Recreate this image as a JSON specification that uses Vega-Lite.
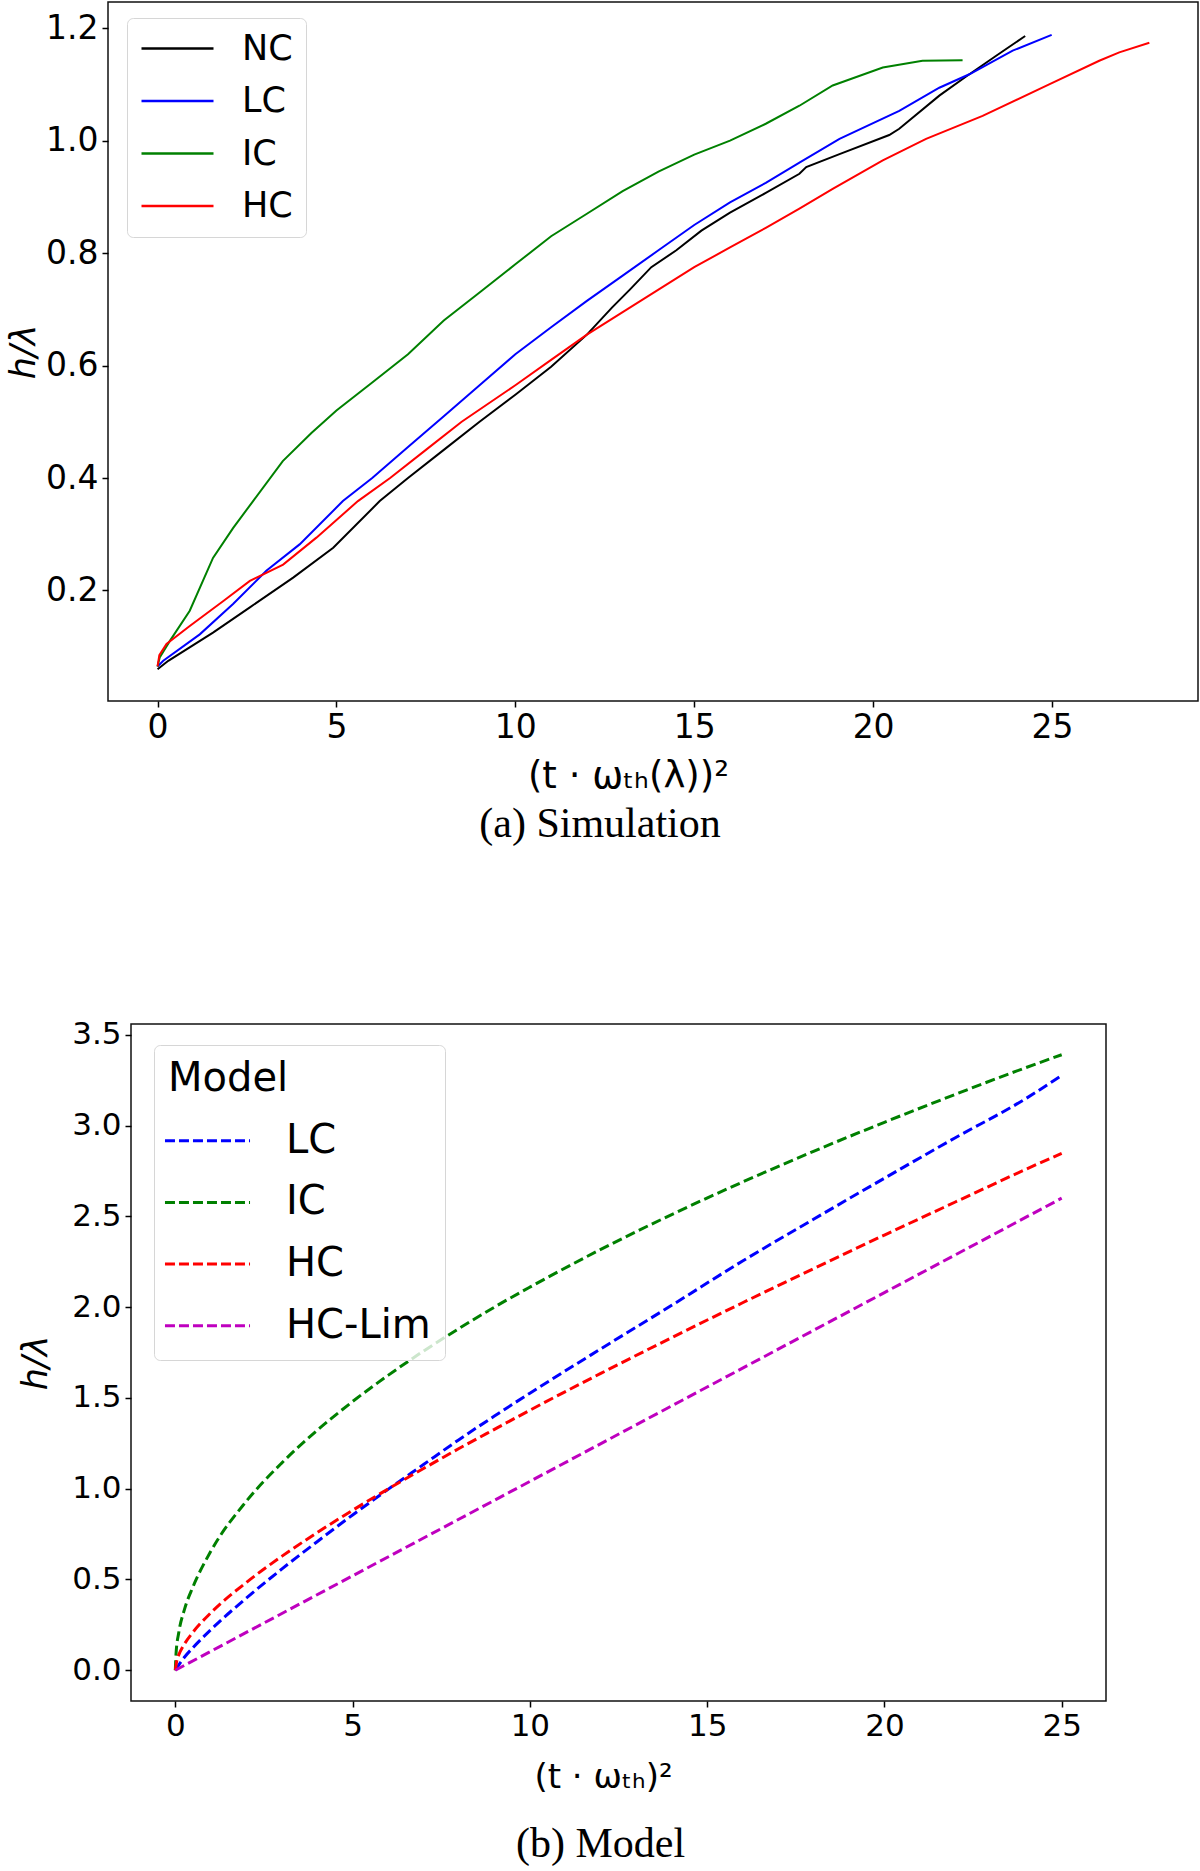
{
  "$schema": "https://vega.github.io/schema/vega-lite/v6.json",
  "padding": {"left": 5, "top": 1, "right": 0, "bottom": 0},
  "background": "white",
  "config": {
    "view": {"stroke": "#111", "strokeWidth": 1.5},
    "font": "DejaVu Sans",
    "axis": {"labelFont": "DejaVu Sans", "labelColor": "#000", "titleFont": "DejaVu Sans", "titleColor": "#000", "titleFontWeight": "normal", "tickColor": "#000", "tickSize": 6, "tickWidth": 1.5, "domain": false, "grid": false, "labelPadding": 4},
    "legend": {"labelLimit": 0, "labelFont": "DejaVu Sans", "labelColor": "#000", "titleFont": "DejaVu Sans", "titleColor": "#000", "titleFontWeight": "normal"}
  },
  "resolve": {"scale": {"color": "independent"}, "legend": {"color": "independent"}},
  "spacing": 172,
  "vconcat": [
    {
      "width": 1090,
      "height": 699,
      "title": {"text": "(a) Simulation", "orient": "bottom", "frame": "group", "anchor": "middle", "dx": -53, "offset": 10, "font": "Liberation Serif", "fontSize": 42, "fontWeight": "normal", "color": "#000"},
      "data": {"values": [
        {"series":"NC","x":0,"y":0.06},{"series":"NC","x":0.3,"y":0.075},{"series":"NC","x":1.55,"y":0.125},{"series":"NC","x":2.58,"y":0.17},{"series":"NC","x":3.79,"y":0.223},{"series":"NC","x":4.91,"y":0.276},{"series":"NC","x":6.21,"y":0.359},{"series":"NC","x":7,"y":0.4},{"series":"NC","x":8,"y":0.45},{"series":"NC","x":9,"y":0.5},{"series":"NC","x":10,"y":0.548},{"series":"NC","x":11,"y":0.598},{"series":"NC","x":12,"y":0.655},{"series":"NC","x":12.7,"y":0.703},{"series":"NC","x":13.2,"y":0.735},{"series":"NC","x":13.8,"y":0.775},{"series":"NC","x":14.5,"y":0.805},{"series":"NC","x":15.2,"y":0.84},{"series":"NC","x":16,"y":0.872},{"series":"NC","x":17,"y":0.907},{"series":"NC","x":17.94,"y":0.941},{"series":"NC","x":18.13,"y":0.953},{"series":"NC","x":19.06,"y":0.976},{"series":"NC","x":20.45,"y":1.01},{"series":"NC","x":20.73,"y":1.021},{"series":"NC","x":21.85,"y":1.08},{"series":"NC","x":22.6,"y":1.114},{"series":"NC","x":23.44,"y":1.151},{"series":"NC","x":24.25,"y":1.186},
        {"series":"LC","x":0,"y":0.065},{"series":"LC","x":0.16,"y":0.075},{"series":"LC","x":1.18,"y":0.122},{"series":"LC","x":2.11,"y":0.176},{"series":"LC","x":3.04,"y":0.235},{"series":"LC","x":3.97,"y":0.282},{"series":"LC","x":5.18,"y":0.359},{"series":"LC","x":6,"y":0.4},{"series":"LC","x":7,"y":0.455},{"series":"LC","x":8,"y":0.51},{"series":"LC","x":9,"y":0.565},{"series":"LC","x":10,"y":0.62},{"series":"LC","x":11,"y":0.668},{"series":"LC","x":12,"y":0.715},{"series":"LC","x":13,"y":0.76},{"series":"LC","x":14,"y":0.805},{"series":"LC","x":15,"y":0.85},{"series":"LC","x":16,"y":0.89},{"series":"LC","x":17,"y":0.925},{"series":"LC","x":17.94,"y":0.961},{"series":"LC","x":19.06,"y":1.003},{"series":"LC","x":20.73,"y":1.053},{"series":"LC","x":21.85,"y":1.094},{"series":"LC","x":22.69,"y":1.118},{"series":"LC","x":23.9,"y":1.16},{"series":"LC","x":24.99,"y":1.188},
        {"series":"IC","x":0,"y":0.065},{"series":"IC","x":0.06,"y":0.081},{"series":"IC","x":0.34,"y":0.11},{"series":"IC","x":0.9,"y":0.164},{"series":"IC","x":1.55,"y":0.258},{"series":"IC","x":2.11,"y":0.311},{"series":"IC","x":2.67,"y":0.359},{"series":"IC","x":3.5,"y":0.43},{"series":"IC","x":4.3,"y":0.48},{"series":"IC","x":5,"y":0.52},{"series":"IC","x":6,"y":0.57},{"series":"IC","x":7,"y":0.62},{"series":"IC","x":8,"y":0.68},{"series":"IC","x":9,"y":0.73},{"series":"IC","x":10,"y":0.78},{"series":"IC","x":11,"y":0.83},{"series":"IC","x":12,"y":0.87},{"series":"IC","x":13,"y":0.91},{"series":"IC","x":14,"y":0.945},{"series":"IC","x":15,"y":0.975},{"series":"IC","x":16,"y":1.0},{"series":"IC","x":17,"y":1.03},{"series":"IC","x":17.94,"y":1.062},{"series":"IC","x":18.87,"y":1.098},{"series":"IC","x":20.27,"y":1.13},{"series":"IC","x":21.38,"y":1.142},{"series":"IC","x":22.5,"y":1.143},
        {"series":"HC","x":0,"y":0.065},{"series":"HC","x":0.05,"y":0.085},{"series":"HC","x":0.25,"y":0.105},{"series":"HC","x":0.9,"y":0.137},{"series":"HC","x":1.83,"y":0.181},{"series":"HC","x":2.58,"y":0.217},{"series":"HC","x":3.51,"y":0.246},{"series":"HC","x":4.44,"y":0.294},{"series":"HC","x":5.6,"y":0.359},{"series":"HC","x":6.5,"y":0.4},{"series":"HC","x":7.5,"y":0.45},{"series":"HC","x":8.5,"y":0.5},{"series":"HC","x":10,"y":0.565},{"series":"HC","x":11,"y":0.61},{"series":"HC","x":12,"y":0.655},{"series":"HC","x":13,"y":0.695},{"series":"HC","x":14,"y":0.735},{"series":"HC","x":15,"y":0.775},{"series":"HC","x":16,"y":0.81},{"series":"HC","x":17,"y":0.845},{"series":"HC","x":17.94,"y":0.879},{"series":"HC","x":18.87,"y":0.914},{"series":"HC","x":20.27,"y":0.965},{"series":"HC","x":21.48,"y":1.003},{"series":"HC","x":23.06,"y":1.044},{"series":"HC","x":24.92,"y":1.1},{"series":"HC","x":26.32,"y":1.142},{"series":"HC","x":26.88,"y":1.157},{"series":"HC","x":27.72,"y":1.174}
      ]},
      "mark": {"type": "line", "strokeWidth": 2},
      "encoding": {
        "x": {"field": "x", "type": "quantitative", "scale": {"domain": [-1.385, 29.08], "nice": false, "zero": false},
              "axis": {"values": [0,5,10,15,20,25], "title": "(t · ωₜₕ(λ))²", "labelFontSize": 33, "titleFontSize": 37, "titlePadding": 14, "titleX": 520, "titleAlign": "center"}},
        "y": {"field": "y", "type": "quantitative", "scale": {"domain": [0.0035, 1.2465], "nice": false, "zero": false},
              "axis": {"values": [0.2,0.4,0.6,0.8,1.0,1.2], "format": ".1f", "title": "h/λ", "titleFontStyle": "italic", "labelFontSize": 33, "titleFontSize": 35, "titlePadding": 4}},
        "color": {"field": "series", "type": "nominal",
                  "scale": {"domain": ["NC","LC","IC","HC"], "range": ["#000000","#0000ff","#008000","#ff0000"]},
                  "legend": {"title": null, "orient": "none", "legendX": 19, "legendY": 16, "fillColor": "rgba(255,255,255,0.8)", "strokeColor": "#d6d6d6", "cornerRadius": 6, "padding": 13,
                             "symbolType": "M-4,0H4", "symbolSize": 324, "symbolStrokeWidth": 2.5, "symbolOffset": 20, "labelOffset": 47, "labelFontSize": 35, "rowPadding": 16.5}}
      }
    },
    {
      "columns": 2,
      "align": "each",
      "spacing": -95,
      "resolve": {"scale": {"color": "independent"}, "legend": {"color": "independent"}},
      "concat": [
        {
          "width": 1,
          "height": 1,
          "view": {"stroke": null},
          "data": {"values": [{"a": 0}]},
          "mark": {"type": "point", "opacity": 0},
          "encoding": {}
        },
        {
          "width": 975,
          "height": 677,
          "title": {"text": "(b) Model", "orient": "bottom", "frame": "group", "anchor": "middle", "dx": -18, "offset": 30, "font": "Liberation Serif", "fontSize": 42, "fontWeight": "normal", "color": "#000"},
          "data": {"values": [
            {"series":"LC","x":0,"y":0},{"series":"LC","x":0.1,"y":0.03},{"series":"LC","x":0.25,"y":0.07},{"series":"LC","x":0.5,"y":0.125},{"series":"LC","x":1,"y":0.223},{"series":"LC","x":2,"y":0.397},{"series":"LC","x":3,"y":0.557},{"series":"LC","x":4,"y":0.708},{"series":"LC","x":5,"y":0.855},{"series":"LC","x":6,"y":0.996},{"series":"LC","x":7,"y":1.133},{"series":"LC","x":8,"y":1.27},{"series":"LC","x":9,"y":1.4},{"series":"LC","x":10,"y":1.526},{"series":"LC","x":12,"y":1.77},{"series":"LC","x":14,"y":2.01},{"series":"LC","x":16,"y":2.254},{"series":"LC","x":18,"y":2.484},{"series":"LC","x":20,"y":2.71},{"series":"LC","x":22,"y":2.933},{"series":"LC","x":24,"y":3.15},{"series":"LC","x":25,"y":3.277},
            {"series":"IC","x":0,"y":0},{"series":"IC","x":0.02,"y":0.09},{"series":"IC","x":0.1,"y":0.21},{"series":"IC","x":0.25,"y":0.33},{"series":"IC","x":0.5,"y":0.46},{"series":"IC","x":1,"y":0.655},{"series":"IC","x":2,"y":0.93},{"series":"IC","x":3,"y":1.141},{"series":"IC","x":4,"y":1.321},{"series":"IC","x":5,"y":1.48},{"series":"IC","x":6,"y":1.624},{"series":"IC","x":7,"y":1.758},{"series":"IC","x":8,"y":1.882},{"series":"IC","x":9,"y":2.0},{"series":"IC","x":10,"y":2.11},{"series":"IC","x":12,"y":2.318},{"series":"IC","x":14,"y":2.51},{"series":"IC","x":16,"y":2.689},{"series":"IC","x":18,"y":2.858},{"series":"IC","x":20,"y":3.018},{"series":"IC","x":22,"y":3.172},{"series":"IC","x":24,"y":3.32},{"series":"IC","x":25,"y":3.39},
            {"series":"HC","x":0,"y":0},{"series":"HC","x":0.05,"y":0.06},{"series":"HC","x":0.1,"y":0.086},{"series":"HC","x":0.25,"y":0.142},{"series":"HC","x":0.5,"y":0.21},{"series":"HC","x":1,"y":0.316},{"series":"HC","x":2,"y":0.483},{"series":"HC","x":3,"y":0.627},{"series":"HC","x":4,"y":0.758},{"series":"HC","x":5,"y":0.881},{"series":"HC","x":6,"y":0.998},{"series":"HC","x":7,"y":1.111},{"series":"HC","x":8,"y":1.221},{"series":"HC","x":9,"y":1.327},{"series":"HC","x":10,"y":1.432},{"series":"HC","x":12,"y":1.635},{"series":"HC","x":14,"y":1.832},{"series":"HC","x":16,"y":2.024},{"series":"HC","x":18,"y":2.212},{"series":"HC","x":20,"y":2.397},{"series":"HC","x":22,"y":2.579},{"series":"HC","x":24,"y":2.76},{"series":"HC","x":25,"y":2.847},
            {"series":"HC-Lim","x":0,"y":0},{"series":"HC-Lim","x":5,"y":0.52},{"series":"HC-Lim","x":10,"y":1.04},{"series":"HC-Lim","x":15,"y":1.56},{"series":"HC-Lim","x":20,"y":2.08},{"series":"HC-Lim","x":25,"y":2.6}
          ]},
          "mark": {"type": "line", "strokeWidth": 3, "strokeDash": [10, 4.5], "interpolate": "monotone"},
          "encoding": {
            "x": {"field": "x", "type": "quantitative", "scale": {"domain": [-1.25, 26.25], "nice": false, "zero": false},
                  "axis": {"values": [0,5,10,15,20,25], "title": "(t · ωₜₕ)²", "labelFontSize": 31, "titleFontSize": 34, "titlePadding": 19, "titleX": 472, "titleAlign": "center"}},
            "y": {"field": "y", "type": "quantitative", "scale": {"domain": [-0.1695, 3.5595], "nice": false, "zero": false},
                  "axis": {"values": [0,0.5,1,1.5,2,2.5,3,3.5], "format": ".1f", "title": "h/λ", "titleFontStyle": "italic", "labelFontSize": 31, "titleFontSize": 35, "titlePadding": 18}},
            "color": {"field": "series", "type": "nominal",
                      "scale": {"domain": ["LC","IC","HC","HC-Lim"], "range": ["#0000ff","#008000","#ff0000","#bf00bf"]},
                      "legend": {"title": "Model", "titleFontSize": 40, "titlePadding": 21.7, "orient": "none", "legendX": 23, "legendY": 21, "fillColor": "rgba(255,255,255,0.8)", "strokeColor": "#d6d6d6", "cornerRadius": 6, "padding": 14,
                                 "symbolType": "M-4,0H4", "symbolSize": 452, "symbolStrokeWidth": 3, "symbolDash": [10, 4], "symbolOffset": 19.5, "labelOffset": 58.5, "labelFontSize": 40, "rowPadding": 21.7}}
          }
        }
      ]
    }
  ]
}
